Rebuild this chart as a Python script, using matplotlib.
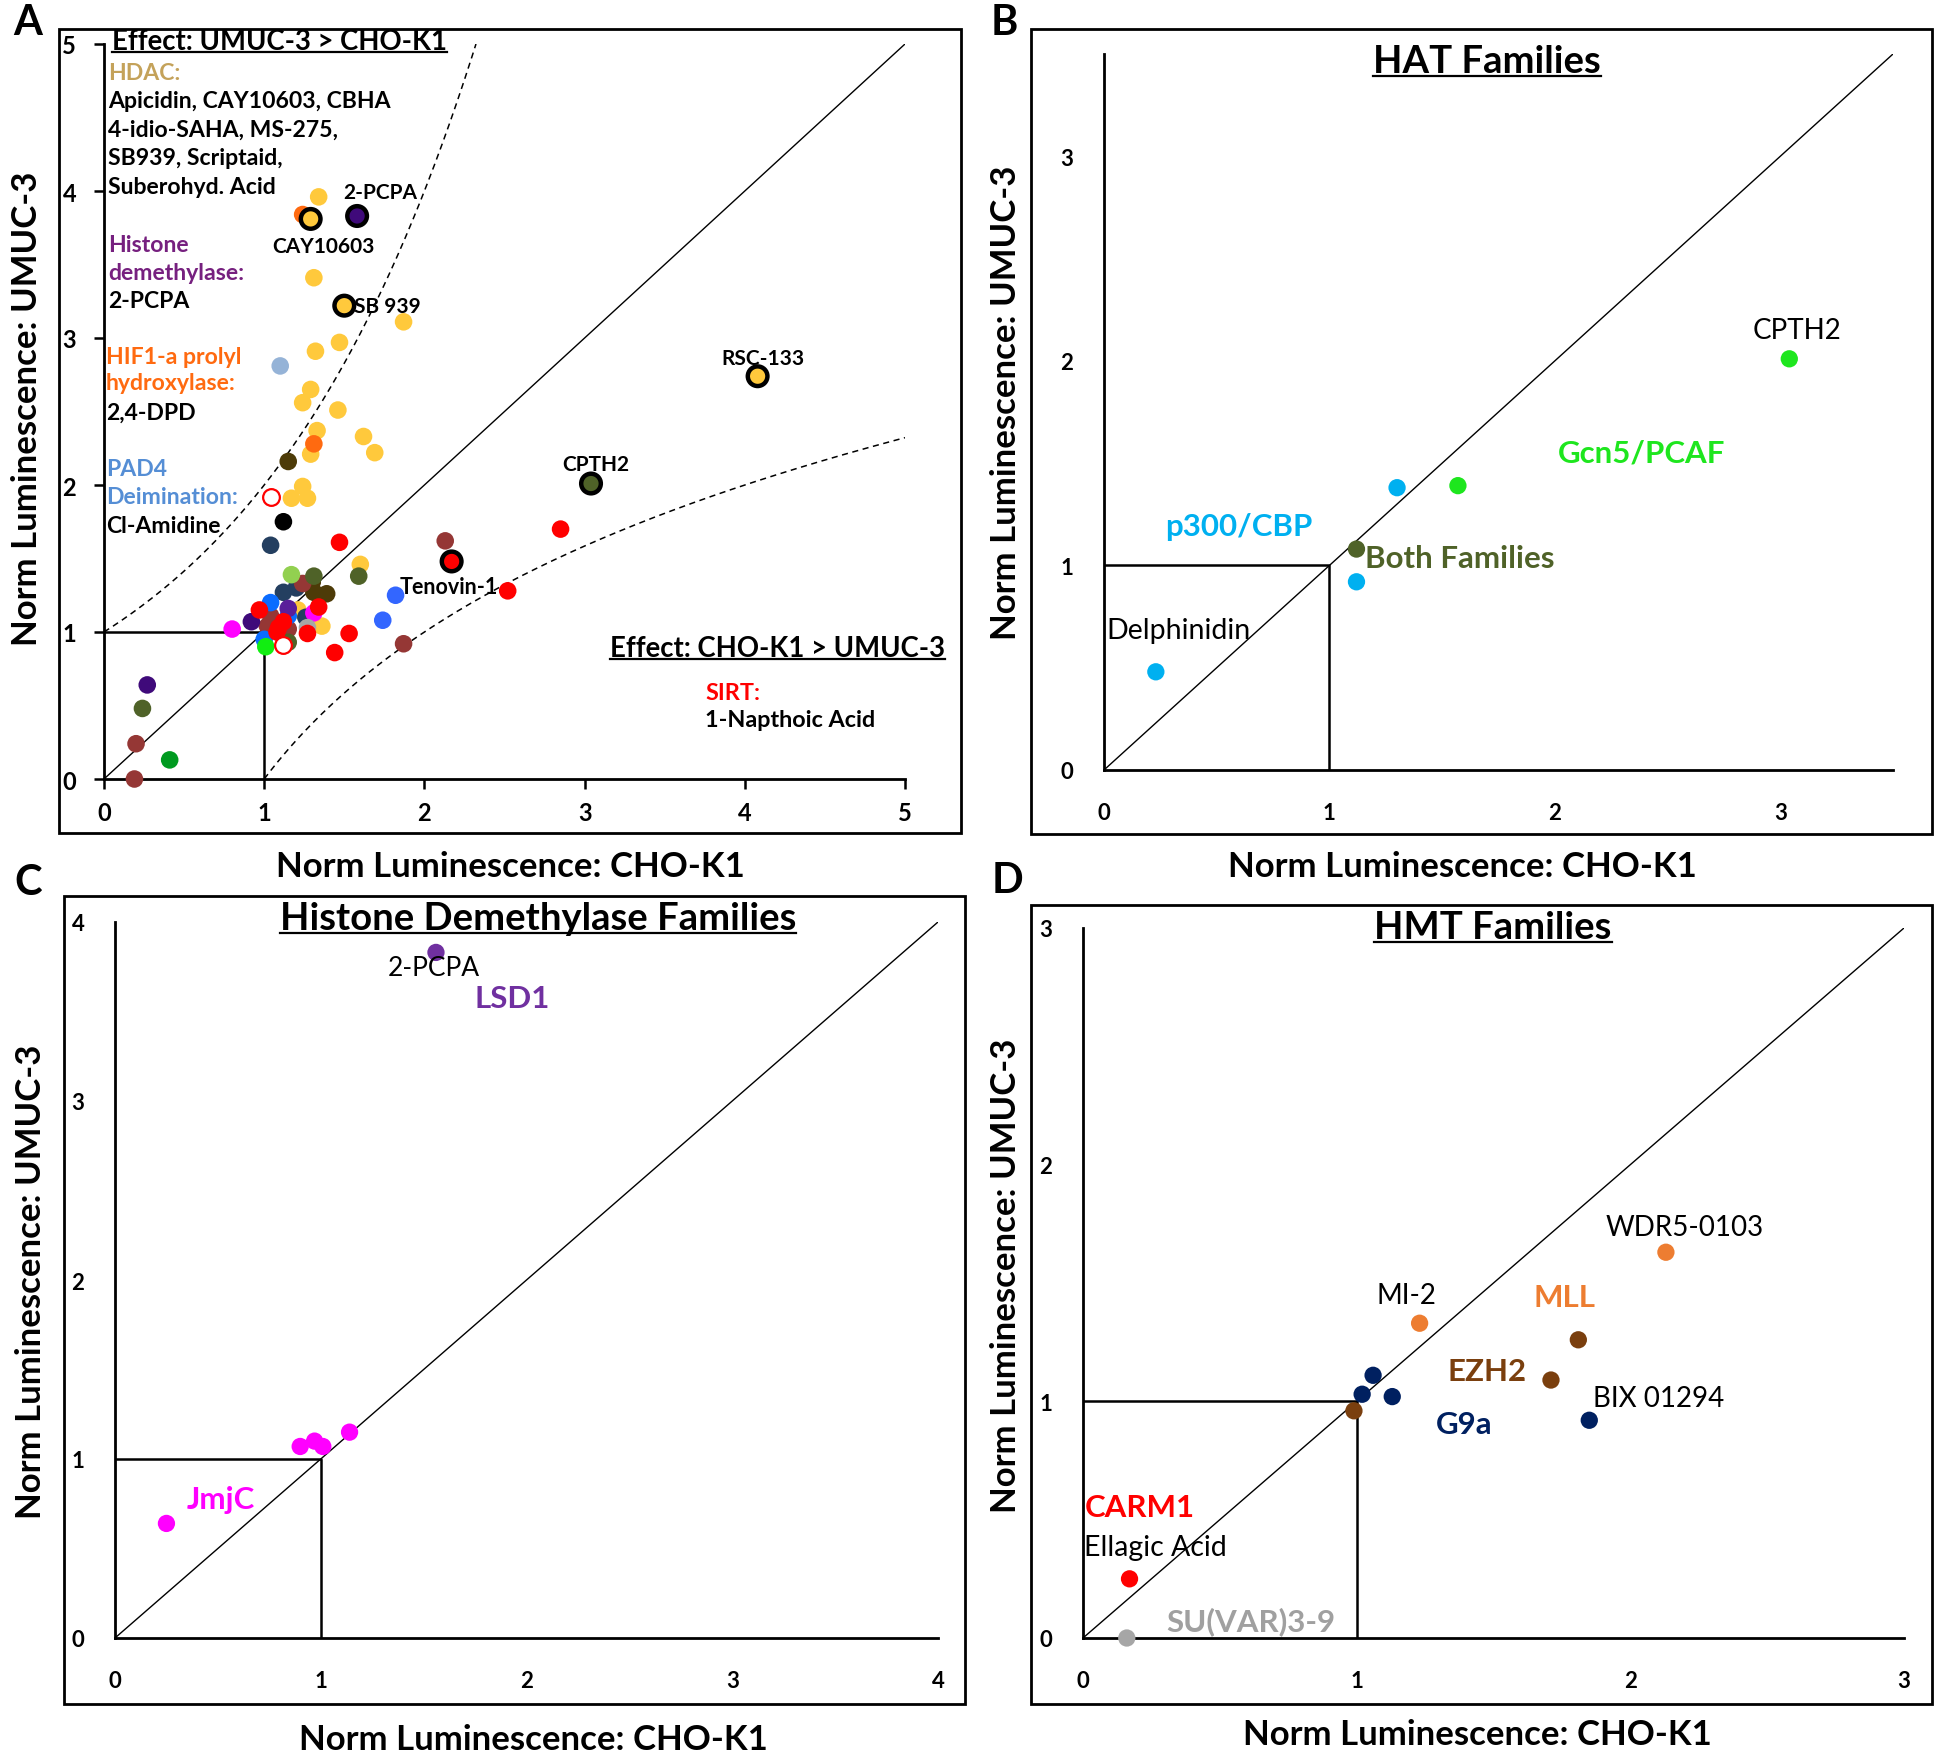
import numpy as np
import matplotlib
matplotlib.use("Agg")
import matplotlib.pyplot as plt
from matplotlib.patches import Rectangle
from matplotlib.lines import Line2D

# ---------------- data ----------------
# panel A: all compounds, grouped by marker colour
a_x = [1.34, 1.31, 1.87, 1.47, 1.32, 1.29, 1.24, 1.46, 1.33, 1.29, 1.62, 1.69, 1.24, 1.17, 1.27, 1.60, 1.21, 1.36, 1.28,
       1.24, 1.31,
       1.10,
       1.15, 1.30, 1.39, 1.31,
       1.12,
       1.04, 1.20, 1.12, 1.26,
       2.13, 1.24, 1.87, 1.04, 1.15, 1.02, 0.20, 0.19,
       1.59, 1.31, 1.15, 0.24,
       1.17,
       1.82, 1.74,
       1.04, 1.15, 1.00,
       1.15,
       0.92, 0.27,
       0.80, 1.31,
       1.27,
       1.01,
       0.41,
       1.47, 2.85, 2.52, 0.97, 1.34, 1.27, 1.53, 1.44, 1.12, 1.09, 1.08]
a_y = [3.96, 3.41, 3.11, 2.97, 2.91, 2.65, 2.56, 2.51, 2.37, 2.21, 2.33, 2.22, 1.99, 1.91, 1.91, 1.46, 1.15, 1.04, 1.07,
       3.84, 2.28,
       2.81,
       2.16, 1.34, 1.26, 1.27,
       1.75,
       1.59, 1.30, 1.27, 1.10,
       1.62, 1.33, 0.92, 1.11, 1.02, 1.04, 0.24, 0.00,
       1.38, 1.38, 0.93, 0.48,
       1.39,
       1.25, 1.08,
       1.20, 1.11, 0.95,
       1.16,
       1.07, 0.64,
       1.02, 1.13,
       1.03,
       0.90,
       0.13,
       1.61, 1.70, 1.28, 1.15, 1.17, 0.99, 0.99, 0.86, 1.07, 1.03, 1.00]
a_grp = (["hdac"] * 19 + ["hif"] * 2 + ["pad"] + ["dkbrown"] * 4 + ["black"] + ["navy"] * 4 +
         ["brown"] * 8 + ["olive"] * 4 + ["ltgreen"] + ["blue"] * 2 + ["brblue"] * 3 + ["purple"] +
         ["indigo"] * 2 + ["magenta"] * 2 + ["gray"] + ["green"] + ["dkgreen"] + ["sirt"] * 11)

# highlighted (ringed) compounds in panel A
ring_names = ["CAY10603", "2-PCPA", "SB 939", "RSC-133", "CPTH2", "Tenovin-1"]
ring_x = [1.29, 1.58, 1.50, 4.08, 3.04, 2.17]
ring_y = [3.81, 3.83, 3.22, 2.74, 2.01, 1.48]
ring_grp = ["hdac", "indigo", "hdac", "hdac", "olive", "sirt"]

# open circles in panel A
open_x = [1.04, 1.12]
open_y = [1.92, 0.91]

# panel B: HAT families
b_x = [0.23, 1.30, 1.12, 1.12, 1.57, 3.04]
b_y = [0.48, 1.38, 0.92, 1.08, 1.39, 2.01]
b_grp = ["p300", "p300", "p300", "both", "gcn5", "gcn5"]

# panel C: histone demethylase families
c_x = [1.56, 0.25, 0.90, 0.97, 1.01, 1.14]
c_y = [3.83, 0.64, 1.07, 1.10, 1.07, 1.15]
c_grp = ["lsd1", "jmjc", "jmjc", "jmjc", "jmjc", "jmjc"]

# panel D: HMT families
d_x = [2.13, 1.23, 1.81, 1.71, 0.99, 1.06, 1.02, 1.13, 1.85, 0.17, 0.16]
d_y = [1.63, 1.33, 1.26, 1.09, 0.96, 1.11, 1.03, 1.02, 0.92, 0.25, 0.00]
d_grp = ["mll", "mll", "ezh2", "ezh2", "ezh2", "g9a", "g9a", "g9a", "g9a", "carm1", "suvar"]

colors = {
    "hdac": "#FFC93C", "hif": "#FF6A10", "pad": "#95B3D7", "dkbrown": "#4D3B08", "black": "#000000",
    "navy": "#243F60", "brown": "#953735", "olive": "#4F6228", "ltgreen": "#92D050", "blue": "#3366FF",
    "brblue": "#0A6CFF", "purple": "#5A1E9A", "indigo": "#3F0A7A", "magenta": "#FF00FF", "gray": "#A6A6A6",
    "green": "#11EE11", "dkgreen": "#009A20", "sirt": "#FF0000",
    "p300": "#00B0F0", "both": "#4F6228", "gcn5": "#1EE61E",
    "lsd1": "#7030A0", "jmjc": "#FF00FF",
    "mll": "#ED7D31", "ezh2": "#7A3F0E", "g9a": "#002060", "carm1": "#FF0000", "suvar": "#A6A6A6",
}

# ---------------- figure ----------------
plt.rcParams["font.family"] = ["Lato", "DejaVu Sans"]
W, H = 1943, 1765
fig = plt.figure(figsize=(W / 100, H / 100), dpi=100)


def fxy(px, py):
    return px / W, 1 - py / H


def frame(l, t, r, b):
    fig.add_artist(Rectangle(fxy(l, b), (r - l) / W, (b - t) / H, transform=fig.transFigure,
                             fill=False, lw=2, edgecolor="black"))


def panel(x0, y0, x1, y1, lim, ticks, tick_len, tick_size, padx, pady):
    ax = fig.add_axes([x0 / W, 1 - y0 / H, (x1 - x0) / W, (y0 - y1) / H])
    ax.set_xlim(0, lim)
    ax.set_ylim(0, lim)
    ax.patch.set_alpha(0)
    for s in ["top", "right"]:
        ax.spines[s].set_visible(False)
    for s in ["left", "bottom"]:
        ax.spines[s].set_linewidth(2)
    ax.set_xticks(ticks)
    ax.set_yticks(ticks)
    ax.set_xticklabels([str(t) for t in ticks], fontweight="bold", fontsize=tick_size)
    ax.set_yticklabels([str(t) for t in ticks], fontweight="bold", fontsize=tick_size)
    ax.tick_params(axis="x", direction="out", length=tick_len, width=1.8, pad=padx)
    ax.tick_params(axis="y", direction="out", length=tick_len, width=1.8, pad=pady)
    ax.plot([0, lim], [0, lim], color="black", lw=1)
    ax.plot([0, 1, 1], [1, 1, 0], color="black", lw=1.8)
    return ax


def txt(px, py, s, size=16, color="black", weight="bold", ha="left", **kw):
    x, y = fxy(px, py)
    return fig.text(x, y, s, fontsize=size, color=color, fontweight=weight, ha=ha, va="center", **kw)


def dots(ax, xs, ys, grp, s=155):
    ax.scatter(xs, ys, s=s, c=[colors[g] for g in grp], edgecolors="none", clip_on=False, zorder=3)


LAB = 25      # axis label size
TTL = 27.5    # panel heading size
GRP = 22.5    # family label size
REG = 20      # compound label size (panels B-D)

# ---- panel A ----
frame(59, 30, 961, 834)
axA = panel(104, 780, 905, 45, 5, [0, 1, 2, 3, 4, 5], 7, 17, 9, 13)
xs = np.linspace(0, np.log2(5), 200)
axA.plot(xs, 2 ** xs, color="black", lw=1.1, ls=(0, (4, 3)))
xs = np.linspace(1, 5, 200)
axA.plot(xs, np.log2(xs), color="black", lw=1.1, ls=(0, (4, 3)))
dots(axA, a_x, a_y, a_grp, s=160)
axA.scatter(ring_x, ring_y, s=200, c=[colors[g] for g in ring_grp], edgecolors="black",
            linewidths=3.2, clip_on=False, zorder=4)
axA.scatter(open_x, open_y, s=145, facecolors="white", edgecolors="#FF0000", linewidths=1.6,
            clip_on=False, zorder=4)

under = []
under.append(txt(112, 42, "Effect: UMUC-3 > CHO-K1", size=19.8))
txt(108, 73, "HDAC:", size=16.6, color="#C4A25A")
lines = ["Apicidin, CAY10603, CBHA", "4-idio-SAHA, MS-275,", "SB939, Scriptaid,", "Suberohyd. Acid"]
for i, s in enumerate(lines):
    txt(108, 102 + 28.4 * i, s, size=16.6)
txt(108, 245, "Histone", size=16.6, color="#76207F")
txt(108, 273, "demethylase:", size=16.6, color="#76207F")
txt(108, 302, "2-PCPA", size=16.6)
txt(106, 357, "HIF1-a prolyl", size=16.6, color="#FF6A10")
txt(106, 384, "hydroxylase:", size=16.6, color="#FF6A10")
txt(106, 413, "2,4-DPD", size=16.6)
txt(106, 470, "PAD4", size=16.6, color="#558ED5")
txt(106, 498, "Deimination:", size=16.6, color="#558ED5")
txt(106, 527, "Cl-Amidine", size=16.6)

txt(343, 193, "2-PCPA", size=15)
txt(323, 247, "CAY10603", size=15, ha="center")
txt(354, 307, "SB 939", size=15)
txt(763, 359, "RSC-133", size=15, ha="center")
txt(596, 465, "CPTH2", size=15, ha="center")
txt(400, 587, "Tenovin-1", size=15.5)
under.append(txt(610, 649, "Effect: CHO-K1 > UMUC-3", size=19.8))
txt(705, 693, "SIRT:", size=16.8, color="#FF0000")
txt(705, 721, "1-Napthoic Acid", size=16.8)

txt(28, 23, "A", size=30, ha="center")
txt(27, 409, "Norm Luminescence: UMUC-3", size=LAB, rotation=90, ha="center")
txt(510, 867, "Norm Luminescence: CHO-K1", size=LAB, ha="center")

# ---- panel B ----
frame(1031, 30, 1932, 835)
axB = panel(1104, 771, 1893, 55, 3.5, [0, 1, 2, 3], 0, 16, 23, 22)
dots(axB, b_x, b_y, b_grp)
under.append(txt(1487, 62, "HAT Families", size=TTL, ha="center"))
txt(1797, 331, "CPTH2", size=REG, weight="normal", ha="center")
txt(1642, 453, "Gcn5/PCAF", size=GRP, color=colors["gcn5"], ha="center")
txt(1239, 527, "p300/CBP", size=GRP, color=colors["p300"], ha="center")
txt(1365, 559, "Both Families", size=GRP, color=colors["both"])
txt(1106, 631, "Delphinidin", size=REG + 0.5, weight="normal")
txt(1004, 23, "B", size=30, ha="center")
txt(1006, 403, "Norm Luminescence: UMUC-3", size=LAB, rotation=90, ha="center")
txt(1462, 867, "Norm Luminescence: CHO-K1", size=LAB, ha="center")

# ---- panel C ----
frame(64, 897, 965, 1705)
axC = panel(115, 1639, 938, 923, 4, [0, 1, 2, 3, 4], 0, 16, 23, 22)
dots(axC, c_x, c_y, c_grp)
under.append(txt(538, 919, "Histone Demethylase Families", size=TTL, ha="center"))
txt(434, 969, "2-PCPA", size=REG - 1, weight="normal", ha="center")
txt(512, 999, "LSD1", size=GRP, color=colors["lsd1"], ha="center")
txt(221, 1500, "JmjC", size=GRP, color=colors["jmjc"], ha="center")
txt(28, 883, "C", size=30, ha="center")
txt(31, 1282, "Norm Luminescence: UMUC-3", size=LAB, rotation=90, ha="center")
txt(533, 1740, "Norm Luminescence: CHO-K1", size=LAB, ha="center")

# ---- panel D ----
frame(1031, 906, 1932, 1705)
axD = panel(1083, 1639, 1904, 929, 3, [0, 1, 2, 3], 0, 16, 23, 22)
dots(axD, d_x, d_y, d_grp)
under.append(txt(1493, 928, "HMT Families", size=TTL, ha="center"))
txt(1685, 1228, "WDR5-0103", size=REG, weight="normal", ha="center")
txt(1406, 1296, "MI-2", size=REG, weight="normal", ha="center")
txt(1564, 1298, "MLL", size=GRP, color=colors["mll"], ha="center")
txt(1487, 1372, "EZH2", size=GRP, color=colors["ezh2"], ha="center")
txt(1659, 1399, "BIX 01294", size=REG, weight="normal", ha="center")
txt(1464, 1425, "G9a", size=GRP, color=colors["g9a"], ha="center")
txt(1140, 1508, "CARM1", size=GRP, color=colors["carm1"], ha="center")
txt(1155, 1548, "Ellagic Acid", size=REG + 0.5, weight="normal", ha="center")
txt(1251, 1622, "SU(VAR)3-9", size=GRP, color="#A0A0A0", ha="center")
txt(1008, 881, "D", size=30, ha="center")
txt(1006, 1276, "Norm Luminescence: UMUC-3", size=LAB, rotation=90, ha="center")
txt(1477, 1735, "Norm Luminescence: CHO-K1", size=LAB, ha="center")

# underline the headings
fig.canvas.draw()
inv = fig.transFigure.inverted()
for t in under:
    bb = t.get_window_extent()
    (x0, y0), (x1, _) = inv.transform([[bb.x0, bb.y0 + 2], [bb.x1, bb.y1]])
    fig.add_artist(Line2D([x0, x1], [y0, y0], transform=fig.transFigure, color="black", lw=1.6))

fig.savefig("out.png", dpi=100)
